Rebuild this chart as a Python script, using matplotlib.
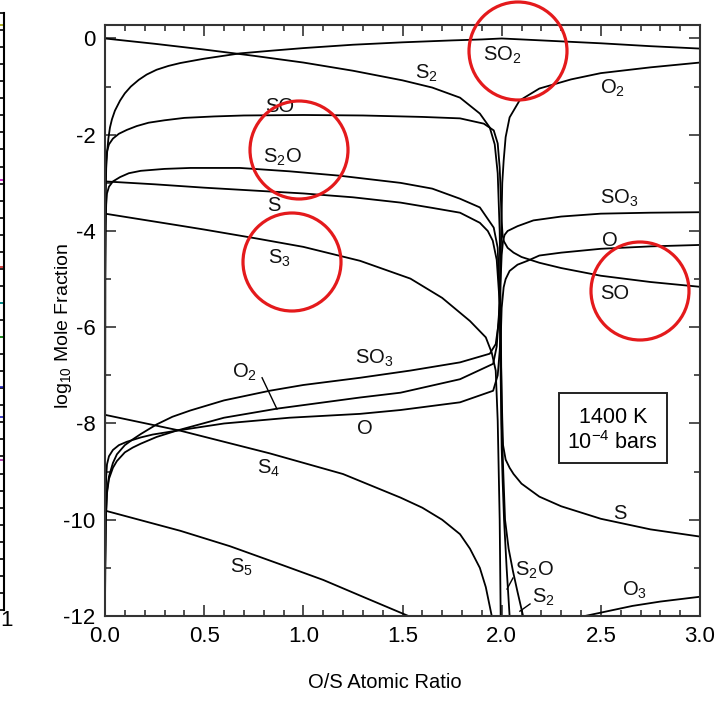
import matplotlib
matplotlib.use("Agg")
import matplotlib.pyplot as plt
from matplotlib.patches import Ellipse, Rectangle
import numpy as np

plt.rcParams['font.family'] = ['Liberation Sans', 'DejaVu Sans']
plt.rcParams['mathtext.fontset'] = 'custom'
plt.rcParams['mathtext.rm'] = 'Liberation Sans'
plt.rcParams['mathtext.it'] = 'Liberation Sans'
plt.rcParams['mathtext.bf'] = 'Liberation Sans'
plt.rcParams['mathtext.default'] = 'regular'
plt.rcParams['axes.unicode_minus'] = False

# ---------------- data (O/S ratio, log10 mole fraction) ----------------
S2_x = [0, 0.25, 0.5, 0.75, 1.0, 1.25, 1.5, 1.65, 1.79, 1.89, 1.94, 1.965, 1.98, 1.99, 1.996, 2.0,
        2.008, 2.017, 2.035, 2.057, 2.08, 2.108]
S2_y = [0, -0.11, -0.23, -0.36, -0.5, -0.67, -0.87, -1.02, -1.23, -1.56, -1.85, -2.2, -2.8, -4.0, -6.0, -8.0,
        -9.0, -10.0, -10.6, -11.07, -11.5, -12.0]

SO2_x = [0, 0.001, 0.003, 0.006, 0.01, 0.017, 0.025, 0.035, 0.05, 0.076, 0.1, 0.13, 0.17, 0.21, 0.26, 0.32,
         0.38, 0.5, 0.68, 0.85, 1.0, 1.25, 1.5, 1.75, 1.9, 2.0, 2.1, 2.25, 2.5, 2.75, 3.0]
SO2_y = [-12, -5.0, -3.3, -2.7, -2.4, -2.08, -1.85, -1.68, -1.5, -1.29, -1.14, -1.0, -0.86, -0.75, -0.65, -0.57,
         -0.51, -0.42, -0.31, -0.25, -0.2, -0.13, -0.08, -0.04, -0.02, 0.0, -0.02, -0.05, -0.1, -0.16, -0.21]

SO_x = [0, 0.001, 0.003, 0.006, 0.01, 0.02, 0.04, 0.07, 0.11, 0.16, 0.22, 0.3, 0.4, 0.55, 0.7, 1.0, 1.3,
        1.6, 1.79, 1.91, 1.96, 1.98, 1.99, 1.995, 2.0, 2.005, 2.012, 2.03, 2.06, 2.1, 2.19, 2.3, 2.5, 2.75, 3.0]
SO_y = [-12, -4.5, -3.0, -2.55, -2.35, -2.2, -2.08, -1.98, -1.9, -1.82, -1.75, -1.7, -1.65, -1.62, -1.6, -1.59,
        -1.6, -1.63, -1.66, -1.77, -1.91, -2.18, -2.68, -3.2, -3.8, -4.1, -4.22, -4.35, -4.45, -4.54, -4.66,
        -4.77, -4.93, -5.06, -5.16]

SO3_x = [0, 0.001, 0.004, 0.01, 0.02, 0.04, 0.06, 0.1, 0.14, 0.18, 0.26, 0.34, 0.43, 0.6, 0.83, 1.0, 1.286,
         1.54, 1.79, 1.94, 1.97, 1.985, 1.995, 2.0, 2.007, 2.015, 2.03, 2.08, 2.16, 2.3, 2.5, 2.75, 3.0]
SO3_y = [-12, -11.0, -10.0, -9.4, -9.1, -8.82, -8.64, -8.45, -8.33, -8.22, -8.02, -7.86, -7.73, -7.52, -7.32,
         -7.2, -7.05, -6.9, -6.73, -6.55, -6.35, -5.9, -5.0, -4.5, -4.2, -4.08, -4.0, -3.9, -3.78, -3.7, -3.64,
         -3.62, -3.61]

O2_x = [0, 0.001, 0.004, 0.01, 0.02, 0.04, 0.06, 0.1, 0.14, 0.18, 0.26, 0.36, 0.6, 0.87, 1.286, 1.49, 1.79,
        1.957, 1.975, 1.99, 1.998, 2.003, 2.01, 2.02, 2.04, 2.09, 2.19, 2.35, 2.5, 2.75, 3.0]
O2_y = [-12, -11.0, -10.0, -9.45, -9.15, -8.92, -8.78, -8.6, -8.5, -8.42, -8.28, -8.15, -7.88, -7.69, -7.46,
        -7.36, -7.08, -6.76, -6.4, -5.5, -4.0, -3.0, -2.54, -2.05, -1.64, -1.29, -1.04, -0.85, -0.72, -0.6, -0.5]

O_x = [0, 0.001, 0.003, 0.006, 0.01, 0.02, 0.04, 0.07, 0.11, 0.18, 0.24, 0.36, 0.6, 0.93, 1.286, 1.49, 1.79,
       1.957, 1.98, 1.99, 1.997, 2.0, 2.01, 2.02, 2.04, 2.08, 2.13, 2.19, 2.3, 2.5, 2.75, 3.0]
O_y = [-12, -10.8, -9.6, -9.1, -8.85, -8.68, -8.55, -8.45, -8.38, -8.29, -8.23, -8.15, -8.0, -7.88, -7.8,
       -7.72, -7.56, -7.32, -7.0, -6.5, -6.0, -5.6, -5.17, -5.0, -4.83, -4.7, -4.62, -4.51, -4.45, -4.37, -4.32,
       -4.29]

S_x = [0, 0.25, 0.5, 0.75, 1.0, 1.25, 1.49, 1.65, 1.79, 1.89, 1.93, 1.955, 1.975, 1.99, 1.997, 2.003,
       2.007, 2.02, 2.04, 2.06, 2.1, 2.19, 2.3, 2.5, 2.75, 3.0]
S_y = [-2.97, -3.03, -3.1, -3.16, -3.22, -3.3, -3.41, -3.52, -3.62, -3.83, -4.0, -4.2, -4.6, -5.5, -6.8, -7.9,
       -8.45, -8.75, -8.92, -9.05, -9.25, -9.52, -9.72, -9.98, -10.2, -10.35]

S2O_x = [0, 0.001, 0.003, 0.006, 0.01, 0.02, 0.04, 0.076, 0.12, 0.18, 0.3, 0.43, 0.68, 0.93, 1.18, 1.49,
         1.65, 1.79, 1.89, 1.96, 1.98, 1.99, 1.995, 2.0, 2.005, 2.012, 2.025, 2.04]
S2O_y = [-12, -5.0, -3.9, -3.45, -3.22, -3.08, -2.97, -2.88, -2.8, -2.75, -2.71, -2.69, -2.69, -2.76, -2.85,
         -3.0, -3.12, -3.33, -3.51, -3.93, -4.35, -5.5, -7.0, -8.5, -9.2, -10.0, -11.0, -12.0]

S3_x = [0, 0.38, 0.5, 0.77, 1.0, 1.286, 1.54, 1.7, 1.84, 1.92, 1.95, 1.97, 1.98, 1.99, 1.995]
S3_y = [-3.64, -3.89, -3.97, -4.16, -4.33, -4.62, -4.99, -5.39, -5.87, -6.21, -6.53, -6.9, -7.94, -10.0, -12.0]

S4_x = [0, 0.38, 0.83, 1.2, 1.49, 1.6, 1.7, 1.79, 1.84, 1.89, 1.92, 1.95]
S4_y = [-7.82, -8.15, -8.62, -9.05, -9.54, -9.75, -10.0, -10.3, -10.6, -11.0, -11.4, -12.0]

S5_x = [0, 0.38, 0.63, 0.9, 1.1, 1.3, 1.53]
S5_y = [-9.81, -10.23, -10.55, -10.95, -11.25, -11.6, -12.0]

O3_x = [2.42, 2.5, 2.66, 2.8, 3.0]
O3_y = [-12.0, -11.93, -11.79, -11.7, -11.6]

curves = [(S2_x, S2_y), (SO2_x, SO2_y), (SO_x, SO_y), (SO3_x, SO3_y), (O2_x, O2_y), (O_x, O_y),
          (S_x, S_y), (S2O_x, S2O_y), (S3_x, S3_y), (S4_x, S4_y), (S5_x, S5_y), (O3_x, O3_y)]

# curve labels: text, x (left edge), y (baseline)
label_text = ["S$_2$", "SO$_2$", "O$_2$", "SO", "S$_2$O", "S", "S$_3$", "SO$_3$", "O", "SO",
              "O$_2$", "SO$_3$", "O", "S$_4$", "S$_5$", "S", "O$_3$", "S$_2$O", "S$_2$"]
label_x = [1.563, 1.906, 2.496, 0.807, 0.797, 0.817, 0.822, 2.496, 2.506, 2.496,
           0.640, 1.261, 1.271, 0.766, 0.630, 2.561, 2.607, 2.067, 2.153]
label_y = [-0.83, -0.46, -1.14, -1.52, -2.58, -3.58, -4.68, -3.43, -4.31, -5.41,
           -7.05, -6.76, -8.22, -9.05, -11.11, -9.98, -11.58, -11.17, -11.73]

# leader lines (x0, x1), (y0, y1)
leader_x = [(0.792, 0.867), (2.057, 2.027), (2.143, 2.092)]
leader_y = [(-7.05, -7.70), (-11.21, -11.44), (-11.75, -11.90)]

box_lines = ["1400 K", "10$^{-4}$ bars"]

# ---------------- figure ----------------
W, H = 722, 701
fig = plt.figure(figsize=(W / 100, H / 100), dpi=100)
ax = fig.add_axes([105 / W, (H - 616) / H, 595 / W, 591 / H])
ax.set_xlim(0, 3)
ax.set_ylim(-12, 0.28)

for xs, ys in curves:
    ax.plot(xs, ys, color='black', lw=1.3, solid_joinstyle='round', clip_on=True)

for t, x, y in zip(label_text, label_x, label_y):
    ax.text(x, y, t, fontsize=14.5, ha='left', va='baseline', color='#111111')

for xs, ys in zip(leader_x, leader_y):
    ax.plot(xs, ys, color='black', lw=1.0)

# info box
ax.add_patch(Rectangle((2.289, -8.82), 0.545, 1.46, fill=False, ec='#222222', lw=1.4))
ax.text(2.561, -7.88, box_lines[0], fontsize=15.5, ha='center', va='center')
ax.text(2.561, -8.40, box_lines[1], fontsize=15.5, ha='center', va='center')

# ticks
ax.set_xticks(np.arange(0, 3.01, 0.5))
ax.set_xticks(np.arange(0, 3.01, 0.1), minor=True)
ax.set_xticklabels([f"{v:.1f}" for v in np.arange(0, 3.01, 0.5)])
ax.set_yticks(np.arange(-12, 0.1, 2))
ax.set_yticks(np.arange(-12, 0.1, 1), minor=True)
ax.set_yticklabels([f"{int(v)}" for v in np.arange(-12, 0.1, 2)])
ax.tick_params(which='both', direction='in', top=True, right=True, width=1.1, color='#222222')
ax.tick_params(which='major', length=8, labelsize=16)
ax.tick_params(which='minor', length=4.5)
ax.tick_params(axis='x', which='major', pad=7)
ax.tick_params(axis='y', which='major', pad=7)
for sp in ax.spines.values():
    sp.set_linewidth(1.5)
    sp.set_color('#333333')

fig.text(385 / W, 1 - 683 / H, "O/S Atomic Ratio", fontsize=14.5, ha='center', va='center')
fig.text(63 / W, 1 - 326 / H, "log$_{10}$ Mole Fraction", fontsize=14, ha='center', va='center',
         rotation=90)

# cropped neighbouring panel at the far left
axL = fig.add_axes([0, (H - 610) / H, 4 / W, 597 / H])
axL.set_xlim(0, 1)
axL.set_ylim(0, 1)
for s in ['left', 'top', 'bottom']:
    axL.spines[s].set_visible(False)
axL.spines['right'].set_linewidth(1.5)
axL.set_xticks([])
axL.yaxis.tick_right()
axL.set_yticks(np.linspace(0, 1, 36))
axL.tick_params(axis='y', direction='in', length=4, width=1.2, labelright=False)
left_mark_y = [0.98, 0.72, 0.575, 0.515, 0.457, 0.374, 0.323, 0.251]
left_mark_c = ['#a0a000', '#c000c0', '#d02020', '#00a0a0', '#20a020', '#2020c0', '#2020c0', '#a020a0']
for yy, cc in zip(left_mark_y, left_mark_c):
    axL.plot([0, 1], [yy, yy], color=cc, lw=1.2, clip_on=False)
fig.text(0.5 / W, 1 - 620 / H, "1", fontsize=16, ha='left', va='center')

# red highlight circles (pixel centres/radius)
circ_cx = [299, 292, 518, 640]
circ_cy = [150, 262, 51, 291]
circ_r = [49, 49, 49, 49]
for cx, cy, r in zip(circ_cx, circ_cy, circ_r):
    e = Ellipse((cx / W, 1 - cy / H), 2 * r / W, 2 * r / H, transform=fig.transFigure,
                fill=False, ec='#e41a1c', lw=2.3, zorder=10)
    fig.add_artist(e)

fig.savefig("out.png", dpi=100)
